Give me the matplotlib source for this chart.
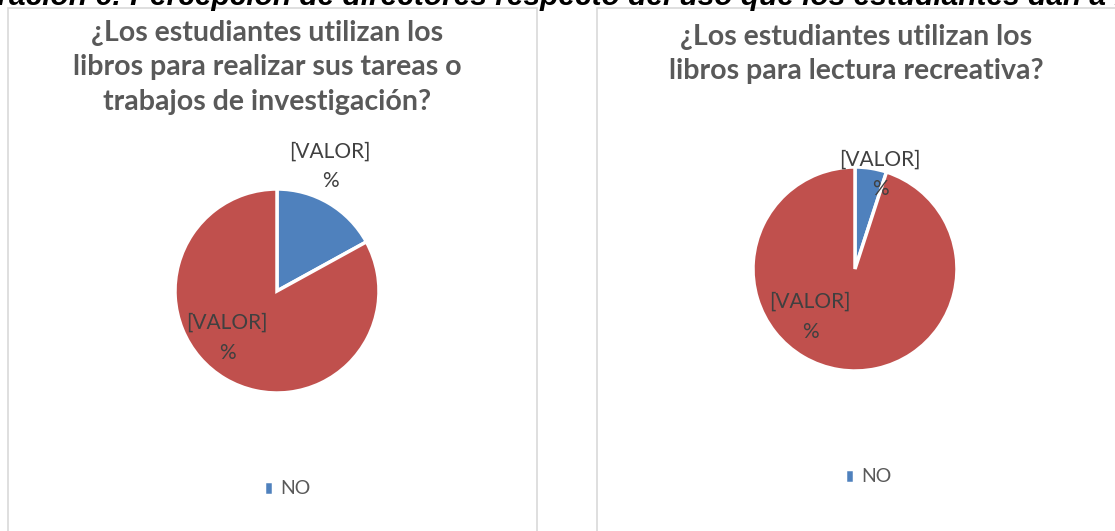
import matplotlib.pyplot as plt
from matplotlib.patches import Rectangle

# data
cats = ['NO', 'SI']
tareas = [17, 83]
lectura = [5, 95]
titulos = ['¿Los estudiantes utilizan los\nlibros para realizar sus tareas o\ntrabajos de investigación?',
           '¿Los estudiantes utilizan los\nlibros para lectura recreativa?']
etiqueta = '[VALOR]\n%'
prefijo = 'Ilustración 6: '
cabecera = prefijo + 'Percepción de directores respecto del uso que los estudiantes dan a los libros'

colores = ['#4F81BD', '#C0504D']
W, H = 1115, 531

fig = plt.figure(figsize=(W / 100, H / 100), dpi=100)
fig.patch.set_facecolor('white')

def fx(x):
    return x / W

def fy(y):
    return 1 - y / H

# cut-off caption on top
cap_kw = dict(fontsize=21.5, fontweight='bold', fontstyle='italic',
              family='Liberation Sans', color='black', ha='left', va='baseline')
r = fig.canvas.get_renderer()
tmp = fig.text(0, 0, prefijo.replace(' ', '_')[:-1] + ' ', **cap_kw)
pw = tmp.get_window_extent(renderer=r).width
tmp.remove()
fig.text(fx(138 - pw), fy(5), cabecera, **cap_kw)

# chart boxes
for x0, x1 in [(8, 537), (597, 1125)]:
    fig.patches.append(Rectangle((fx(x0), fy(540)), fx(x1 - x0), (540 - 8) / H,
                                 transform=fig.transFigure, fill=False,
                                 edgecolor='#d9d9d9', linewidth=1.2))

def panel(vals, titulo, cx, cy, rad, tx, ty, label_pos, ley_x, ley_y):
    ax = fig.add_axes([fx(cx - rad), fy(cy + rad), fx(2 * rad), 2 * rad / H])
    wedges, _ = ax.pie(vals, colors=colores, startangle=90, counterclock=False,
                       radius=1, wedgeprops=dict(edgecolor='white', linewidth=2.5))
    ax.set_xlim(-1, 1)
    ax.set_ylim(-1, 1)
    ax.set_aspect('equal')
    ax.axis('off')
    for (lx, ly) in label_pos:
        ax.text(lx, ly, etiqueta, ha='center', va='center', fontsize=15,
                family='Lato', color='#404040', linespacing=1.6, clip_on=False)
    fig.text(fx(tx), fy(ty), titulo, ha='center', va='top', fontsize=20.5,
             fontweight='bold', family='Lato', color='#595959', linespacing=1.4)
    leg = fig.legend([wedges[0]], [cats[0]], loc='center', frameon=False,
                     bbox_to_anchor=(fx(ley_x), fy(ley_y)), handlelength=0.5,
                     handleheight=0.7, handletextpad=0.35,
                     prop=dict(family='Lato', size=14))
    for t in leg.get_texts():
        t.set_color('#595959')
    return ax

panel(tareas, titulos[0], 277, 291, 102, 267, 20,
      [(0.52, 1.22), (-0.49, -0.46)], 287, 489)
panel(lectura, titulos[1], 855, 269, 102, 856, 24,
      [(0.245, 0.93), (-0.44, -0.47)], 868, 477)

fig.savefig('out.png', dpi=100, facecolor='white')
